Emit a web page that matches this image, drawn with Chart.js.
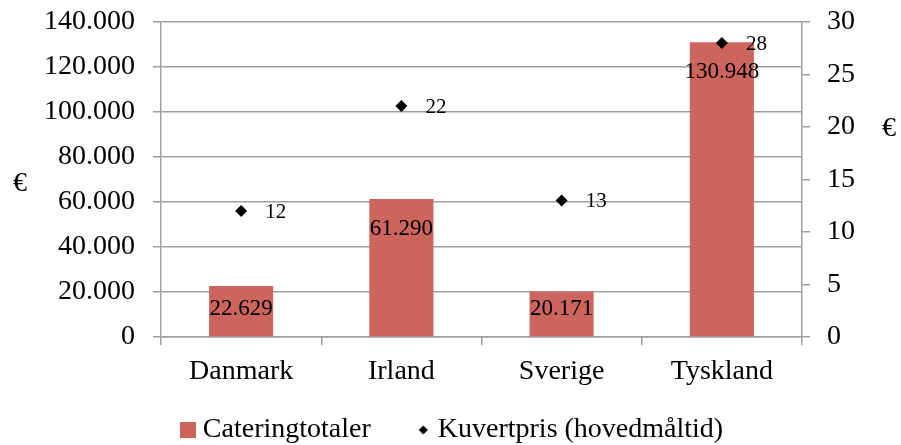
<!DOCTYPE html>
<html>
<head>
<meta charset="utf-8">
<script src="https://cdn.jsdelivr.net/npm/chart.js@4/dist/chart.umd.min.js"></script>
<style>
html,body{margin:0;padding:0;background:#fff;}
#wrap{width:901px;height:445px;}
</style>
</head>
<body>
<div id="wrap"><canvas id="c" width="901" height="445"></canvas></div>
<script>
const categories = ['Danmark', 'Irland', 'Sverige', 'Tyskland'];
const cateringTotals = [22629, 61290, 20171, 130948];
const coverPrices = [12, 22, 13, 28];
const leftTickLabels = ['0', '20.000', '40.000', '60.000', '80.000', '100.000', '120.000', '140.000'];
const rightTickLabels = ['0', '5', '10', '15', '20', '25', '30'];
const seriesNames = ['Cateringtotaler', 'Kuvertpris (hovedmåltid)'];
const axisUnit = '€';

const FONT = "'Liberation Serif', 'Times New Roman', serif";
const BAR_COLOR = '#cd655f';
const GRID = '#a0a0a0';

function fmt(n) {
  return String(n).replace(/\B(?=(\d{3})+(?!\d))/g, '.');
}

// legend icons
const sq = document.createElement('canvas');
sq.width = 16; sq.height = 16;
(function(){ const c = sq.getContext('2d'); c.fillStyle = BAR_COLOR; c.fillRect(0,0,16,16); })();
const dia = document.createElement('canvas');
dia.width = 12; dia.height = 12;
(function(){ const c = dia.getContext('2d'); c.fillStyle = '#000'; c.beginPath();
  c.moveTo(6,1.5); c.lineTo(10.5,6); c.lineTo(6,10.5); c.lineTo(1.5,6); c.closePath(); c.fill(); })();

const labelPlugin = {
  id: 'valueLabels',
  afterDatasetsDraw(chart) {
    const ctx = chart.ctx;
    ctx.save();
    ctx.fillStyle = '#000';
    const barMeta = chart.getDatasetMeta(0);
    ctx.font = "23px " + FONT;
    ctx.textAlign = 'center';
    ctx.textBaseline = 'middle';
    barMeta.data.forEach((el, i) => {
      const y = Math.min(el.y + 30, el.base - 27);
      ctx.fillText(fmt(cateringTotals[i]), el.x, y);
    });
    const ptMeta = chart.getDatasetMeta(1);
    ctx.font = "21px " + FONT;
    ctx.textAlign = 'left';
    ptMeta.data.forEach((el, i) => {
      ctx.fillText(String(coverPrices[i]), el.x + 24, el.y + 1);
    });
    // axis unit titles
    ctx.font = "28px " + FONT;
    ctx.textAlign = 'center';
    ctx.fillText(axisUnit, 20, 184);
    ctx.fillText(axisUnit, 889, 129);
    ctx.restore();
  }
};

new Chart(document.getElementById('c'), {
  type: 'bar',
  data: {
    labels: categories,
    datasets: [
      {
        type: 'bar',
        label: seriesNames[0],
        data: cateringTotals,
        backgroundColor: BAR_COLOR,
        borderWidth: 0,
        yAxisID: 'y',
        barPercentage: 0.4,
        categoryPercentage: 1.0,
        order: 2
      },
      {
        type: 'line',
        label: seriesNames[1],
        data: coverPrices,
        yAxisID: 'y1',
        showLine: false,
        pointStyle: 'rectRot',
        pointRadius: 6,
        pointHoverRadius: 6,
        pointBackgroundColor: '#000',
        pointBorderColor: '#000',
        pointBorderWidth: 0,
        backgroundColor: '#000',
        borderColor: '#000',
        order: 1
      }
    ]
  },
  options: {
    responsive: false,
    animation: false,
    devicePixelRatio: 1,
    layout: { padding: { top: 22, left: 10, right: 0, bottom: 0 } },
    plugins: {
      tooltip: { enabled: false },
      legend: {
        position: 'bottom',
        maxHeight: 51,
        title: { display: true, text: ' ', font: { size: 10, lineHeight: 1.2 }, padding: { top: -42, bottom: 0 } },
        labels: {
          usePointStyle: true,
          boxWidth: 1,
          boxHeight: 16,
          padding: 52,
          color: '#000',
          font: { family: FONT, size: 28 },
          generateLabels() {
            return [
              { text: seriesNames[0], datasetIndex: 0, pointStyle: sq, fillStyle: BAR_COLOR, strokeStyle: BAR_COLOR, lineWidth: 0, hidden: false, fontColor: '#000' },
              { text: seriesNames[1], datasetIndex: 1, pointStyle: dia, fillStyle: '#000', strokeStyle: '#000', lineWidth: 0, hidden: false, fontColor: '#000' }
            ];
          }
        }
      }
    },
    scales: {
      x: {
        offset: true,
        grid: { drawOnChartArea: false, drawTicks: true, tickLength: 8, color: GRID, lineWidth: 1.5, offset: true },
        border: { color: GRID, width: 1.5 },
        ticks: { color: '#000', font: { family: FONT, size: 28 }, padding: 10, maxRotation: 0 },
        afterFit(s) { s.height = 57; }
      },
      y: {
        position: 'left',
        min: 0, max: 140000,
        grid: { drawOnChartArea: true, drawTicks: true, tickLength: 8, color: GRID, lineWidth: 1.5 },
        border: { color: GRID, width: 1.5 },
        ticks: {
          stepSize: 20000, color: '#000', font: { family: FONT, size: 28, lineHeight: 0.2 }, padding: 18,
          callback: (v, i) => leftTickLabels[i]
        },
        afterFit(s) { s.width = 151; }
      },
      y1: {
        position: 'right',
        min: 0, max: 30,
        grid: { drawOnChartArea: false, drawTicks: true, tickLength: 8, color: GRID, lineWidth: 1.5 },
        border: { color: GRID, width: 1.5 },
        ticks: {
          stepSize: 5, color: '#000', font: { family: FONT, size: 28, lineHeight: 0.2 }, padding: 17,
          callback: (v, i) => rightTickLabels[i]
        },
        afterFit(s) { s.width = 99; }
      }
    }
  },
  plugins: [labelPlugin]
});
</script>
</body>
</html>
